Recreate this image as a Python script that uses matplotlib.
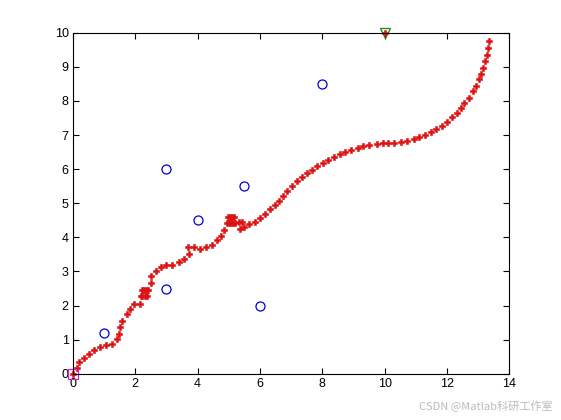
import matplotlib
matplotlib.use('Agg')
import matplotlib.pyplot as plt

# obstacles
obs_x = [1, 3, 3, 4, 5.5, 6, 8]
obs_y = [1.2, 2.5, 6, 4.5, 5.5, 2, 8.5]

start = (0, 0)
goal = (10, 10)

# path of the robot
path_x = [0, 0.13, 0.19, 0.35, 0.53, 0.69, 0.87, 1.06, 1.25, 1.41, 1.48, 1.51, 1.57,
          1.72, 1.83, 1.96, 2.15,
          2.17, 2.23, 2.30, 2.36, 2.21, 2.28, 2.35, 2.42,
          2.49, 2.52, 2.65, 2.81, 3.0, 3.19, 3.39, 3.55, 3.71, 3.70, 3.89, 4.08,
          4.27, 4.47, 4.63, 4.76, 4.85,
          4.93, 5.0, 5.07, 5.14, 5.21, 4.97, 5.04, 5.11, 5.17,
          5.33, 5.43, 5.37, 5.49, 5.66, 5.85, 6.01, 6.17, 6.33, 6.49, 6.62, 6.75,
          6.88, 7.04, 7.20, 7.36, 7.52, 7.68, 7.84, 8.03, 8.19, 8.39, 8.58, 8.74,
          8.93, 9.13, 9.32, 9.51, 9.74, 9.93, 10.12, 10.31, 10.51, 10.70, 10.93,
          11.09, 11.28, 11.47, 11.66, 11.83, 11.99, 12.15, 12.31, 12.44, 12.56,
          12.69, 12.82, 12.92, 13.01, 13.08, 13.14, 13.21, 13.27, 13.30, 13.34]
path_y = [0, 0.16, 0.34, 0.46, 0.58, 0.69, 0.79, 0.84, 0.87, 1.02, 1.18, 1.37, 1.56,
          1.74, 1.89, 2.04, 2.06,
          2.27, 2.27, 2.27, 2.27, 2.47, 2.47, 2.47, 2.47,
          2.66, 2.86, 3.01, 3.13, 3.18, 3.19, 3.27, 3.36, 3.51, 3.71, 3.71, 3.65,
          3.71, 3.79, 3.91, 4.05, 4.22,
          4.41, 4.41, 4.41, 4.41, 4.41, 4.61, 4.61, 4.61, 4.61,
          4.46, 4.46, 4.26, 4.29, 4.38, 4.46, 4.58, 4.70, 4.82, 4.96, 5.08, 5.22,
          5.37, 5.51, 5.66, 5.78, 5.90, 5.98, 6.10, 6.19, 6.28, 6.37, 6.45, 6.51,
          6.57, 6.63, 6.69, 6.72, 6.75, 6.78, 6.78, 6.78, 6.81, 6.84, 6.89,
          6.95, 7.01, 7.10, 7.19, 7.28, 7.39, 7.54, 7.66, 7.80, 7.95,
          8.10, 8.28, 8.45, 8.63, 8.80, 8.98, 9.18, 9.36, 9.56, 9.77]

fig = plt.figure(figsize=(5.61, 4.2), dpi=100)
ax = fig.add_axes([0.13, 0.11, 0.778, 0.812])

ax.plot(obs_x, obs_y, 'o', color='#0000cc', mfc='none', ms=6.5, mew=0.9)
ax.plot(path_x, path_y, 'P', color='#dd1111', ms=4.0, mew=0.4, ls='none', clip_on=False)
ax.plot(start[0], start[1], 's', color='#cc22cc', mfc='none', ms=7, mew=0.9, clip_on=False)
ax.plot(goal[0], goal[1], 'v', color='#118811', mfc='none', ms=7, mew=0.9, clip_on=False)
ax.plot(goal[0], goal[1], 'P', color='#dd1111', ms=4, mew=0.4, clip_on=False)

ax.set_xlim(0, 14)
ax.set_ylim(0, 10)
ax.set_xticks(range(0, 15, 2))
ax.set_yticks(range(0, 11))
ax.tick_params(direction='in', top=True, right=True, length=4, width=0.8,
               labelsize=9, pad=3)
for lab in ax.get_xticklabels() + ax.get_yticklabels():
    lab.set_family('Liberation Sans')
for s in ax.spines.values():
    s.set_linewidth(0.8)

fig.text(0.985, 0.02, 'CSDN @Matlab科研工作室', ha='right', va='bottom',
         fontsize=8, color='#bbbbbb', family=['Noto Sans CJK SC', 'DejaVu Sans'])

fig.savefig('out.png', dpi=100)
